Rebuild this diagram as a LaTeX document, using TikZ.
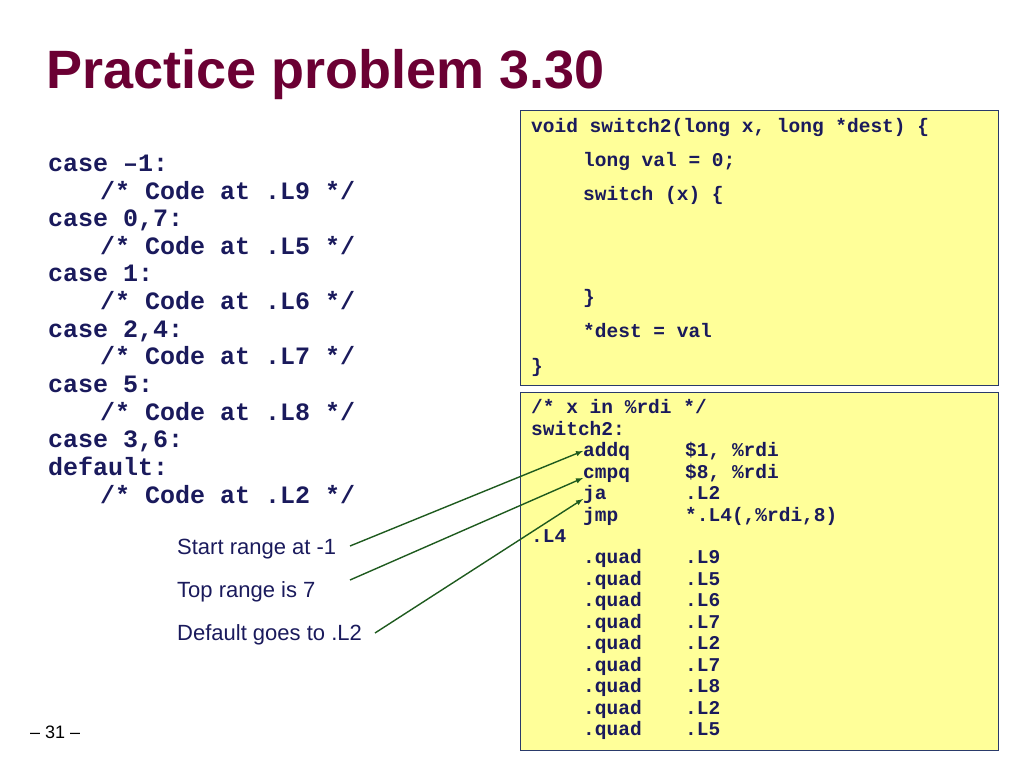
\documentclass[tikz,border=0pt]{standalone}
\usepackage{fontspec}
\setmainfont{Liberation Sans}
\newfontfamily\codefont{Liberation Mono}
\definecolor{titlered}{HTML}{6B0033}
\definecolor{codeblue}{HTML}{1A1A5C}
\definecolor{boxfill}{HTML}{FFFF99}
\definecolor{boxline}{HTML}{2A3A6A}
\definecolor{arrowgreen}{HTML}{1E5A1E}
\tikzset{
  code/.style={anchor=base west, inner sep=0pt, text=codeblue, font=\codefont\bfseries\fontsize{19.5}{19.5}\selectfont},
  bigcode/.style={anchor=base west, inner sep=0pt, text=codeblue, font=\codefont\bfseries\fontsize{25}{25}\selectfont},
  note/.style={anchor=base west, inner sep=0pt, text=codeblue, font=\fontsize{22}{22}\selectfont},
  codebox/.style={draw=boxline, fill=boxfill, line width=1pt},
  pointer/.style={draw=arrowgreen, line width=1.4pt, -latex}
}
\begin{document}
\begin{tikzpicture}[x=1pt, y=-1pt]
\useasboundingbox (0,0) rectangle (1024,768);
% Title
\node[anchor=base west, inner sep=0pt, text=titlered, font=\bfseries\fontsize{54}{54}\selectfont] (title) at (46,88) {Practice problem 3.30};
% Cases
\foreach \txt/\xx/\yy in {{case –1:}/48/171, {/* Code at .L9 */}/100/199, {case 0,7:}/48/226, {/* Code at .L5 */}/100/254,
  {case 1:}/48/281, {/* Code at .L6 */}/100/309, {case 2,4:}/48/337, {/* Code at .L7 */}/100/364,
  {case 5:}/48/392, {/* Code at .L8 */}/100/420, {case 3,6:}/48/447, {default:}/48/475, {/* Code at .L2 */}/100/503}
  \node[bigcode] at (\xx,\yy) {\txt};
% C source box
\draw[codebox] (520,110) rectangle (998,385);
\node[code] (head) at (531,132) {void switch2(long x, long *dest) \{};
\node[code] (val) at (583,166) {long val = 0;};
\node[code] (sw) at (583,200) {switch (x) \{};
\node[code] (swend) at (583,303) {\}};
\node[code] (store) at (583,337) {*dest = val};
\node[code] (fend) at (531,372) {\}};
% Assembly box
\draw[codebox] (520,392) rectangle (998,750);
\node[code] (cmt) at (531,413) {/* x in \%rdi */};
\node[code] (lbl) at (531,435) {switch2:};
\node[code] (addq) at (583,456) {addq};
\node[code] at (685,456) {\$1, \%rdi};
\node[code] (cmpq) at (583,478) {cmpq};
\node[code] at (685,478) {\$8, \%rdi};
\node[code] (ja) at (583,499) {ja};
\node[code] at (685,499) {.L2};
\node[code] (jmp) at (583,521) {jmp};
\node[code] at (685,521) {*.L4(,\%rdi,8)};
\node[code] (tbl) at (531,542) {.L4};
\foreach \lab [count=\i] in {.L9,.L5,.L6,.L7,.L2,.L7,.L8,.L2,.L5} {
  \node[code] at (583,542+21.5*\i) {.quad};
  \node[code] at (685,542+21.5*\i) {\lab};
}
% Notes
\node[note] (start) at (177,554) {Start range at -1};
\node[note] (top) at (177,597) {Top range is 7};
\node[note] (dflt) at (177,640) {Default goes to .L2};
\draw[pointer] (350,546) -- (addq.west);
\draw[pointer] (350,580) -- (cmpq.base west);
\draw[pointer] (375,633) -- (ja.base west);
% Page number
\node[anchor=base west, inner sep=0pt, font=\fontsize{18}{18}\selectfont] (page) at (30,738) {– 31 –};
\end{tikzpicture}
\end{document}
